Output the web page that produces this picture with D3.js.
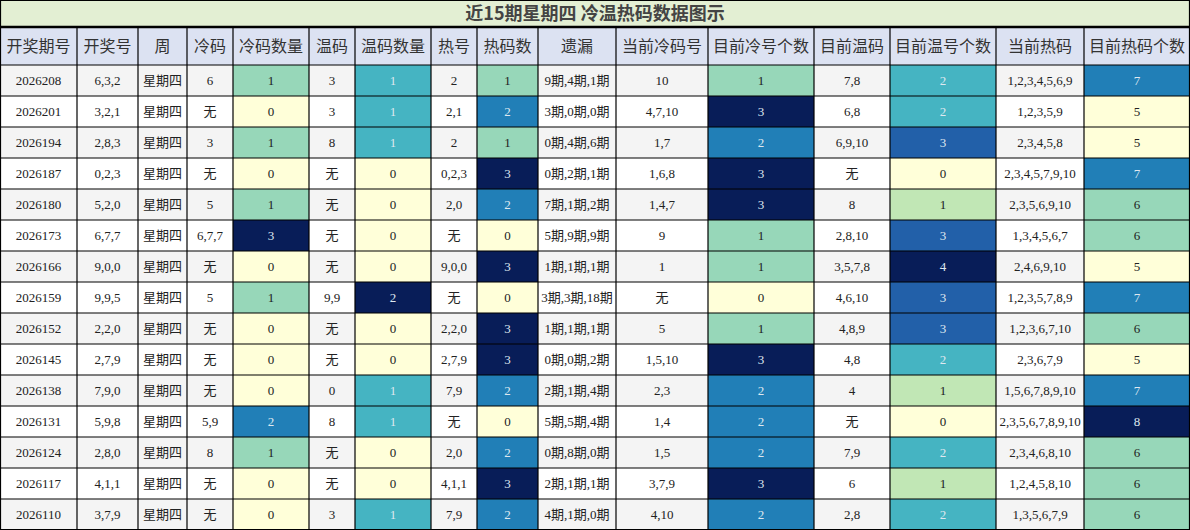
<!DOCTYPE html>
<html>
<head>
<meta charset="utf-8">
<script src="https://cdn.jsdelivr.net/npm/d3@7"></script>
<style>
  body { margin: 0; background: #fff; }
  text { font-family: "Liberation Serif", "Noto Sans CJK SC", serif; }
</style>
</head>
<body>
<svg id="chart" width="1190" height="530"></svg>
<script>
const title = '近15期星期四 冷温热码数据图示';
const headers = ['开奖期号', '开奖号', '周', '冷码', '冷码数量', '温码', '温码数量', '热号', '热码数', '遗漏',
  '当前冷码号', '目前冷号个数', '目前温码', '目前温号个数', '当前热码', '目前热码个数'];
const colEdges = [0, 77, 138, 187, 233, 309, 355, 431, 477, 538, 616, 708, 814, 890, 996, 1084, 1190];

const issues = ['2026208', '2026201', '2026194', '2026187', '2026180', '2026173', '2026166', '2026159',
  '2026152', '2026145', '2026138', '2026131', '2026124', '2026117', '2026110'];
const draws = ['6,3,2', '3,2,1', '2,8,3', '0,2,3', '5,2,0', '6,7,7', '9,0,0', '9,9,5',
  '2,2,0', '2,7,9', '7,9,0', '5,9,8', '2,8,0', '4,1,1', '3,7,9'];
const coldNums = ['6', '无', '3', '无', '5', '6,7,7', '无', '5', '无', '无', '无', '5,9', '8', '无', '无'];
const coldCount = [1, 0, 1, 0, 1, 3, 0, 1, 0, 0, 0, 2, 1, 0, 0];
const warmNums = ['3', '3', '8', '无', '无', '无', '无', '9,9', '无', '无', '0', '8', '无', '无', '3'];
const warmCount = [1, 1, 1, 0, 0, 0, 0, 2, 0, 0, 1, 1, 0, 0, 1];
const hotNums = ['2', '2,1', '2', '0,2,3', '2,0', '无', '9,0,0', '无', '2,2,0', '2,7,9', '7,9', '无', '2,0', '4,1,1', '7,9'];
const hotCount = [1, 2, 1, 3, 2, 0, 3, 0, 3, 3, 2, 0, 2, 3, 2];
const misses = ['9期,4期,1期', '3期,0期,0期', '0期,4期,6期', '0期,2期,1期', '7期,1期,2期', '5期,9期,9期', '1期,1期,1期',
  '3期,3期,18期', '1期,1期,1期', '0期,0期,2期', '2期,1期,4期', '5期,5期,4期', '0期,8期,0期', '2期,1期,1期', '4期,1期,0期'];
const curCold = ['10', '4,7,10', '1,7', '1,6,8', '1,4,7', '9', '1', '无', '5', '1,5,10', '2,3', '1,4', '1,5', '3,7,9', '4,10'];
const curColdCount = [1, 3, 2, 3, 3, 1, 1, 0, 1, 3, 2, 2, 2, 3, 2];
const curWarm = ['7,8', '6,8', '6,9,10', '无', '8', '2,8,10', '3,5,7,8', '4,6,10', '4,8,9', '4,8', '4', '无', '7,9', '6', '2,8'];
const curWarmCount = [2, 2, 3, 0, 1, 3, 4, 3, 3, 2, 1, 0, 2, 1, 2];
const curHot = ['1,2,3,4,5,6,9', '1,2,3,5,9', '2,3,4,5,8', '2,3,4,5,7,9,10', '2,3,5,6,9,10', '1,3,4,5,6,7', '2,4,6,9,10',
  '1,2,3,5,7,8,9', '1,2,3,6,7,10', '2,3,6,7,9', '1,5,6,7,8,9,10', '2,3,5,6,7,8,9,10', '2,3,4,6,8,10', '1,2,4,5,8,10', '1,3,5,6,7,9'];
const curHotCount = [7, 5, 5, 7, 6, 6, 5, 7, 6, 5, 7, 8, 6, 6, 6];

// columns in table order; count columns get a colour scale
const columns = [issues, draws, issues.map(() => '星期四'), coldNums, coldCount, warmNums, warmCount, hotNums, hotCount,
  misses, curCold, curColdCount, curWarm, curWarmCount, curHot, curHotCount];

const svg = d3.select('#chart');
const titleH = 27, headH = 38, rowH = 31;

const y = d3.scaleBand().domain(d3.range(issues.length))
  .range([titleH + headH, titleH + headH + rowH * issues.length]);

// title
svg.append('rect').attr('x', 0).attr('y', 0).attr('width', 1190).attr('height', titleH).attr('fill', '#e3efd3');
svg.append('text').attr('x', 595).attr('y', titleH / 2).attr('dy', '0.35em')
  .attr('text-anchor', 'middle').attr('font-size', 18).attr('font-weight', 'bold').attr('fill', '#444')
  .style('font-family', '"Noto Sans CJK SC", sans-serif').text(title);

// header
const hg = svg.append('g');
headers.forEach((h, i) => {
  const x0 = colEdges[i], w = colEdges[i + 1] - x0;
  hg.append('rect').attr('x', x0).attr('y', titleH).attr('width', w).attr('height', headH).attr('fill', '#dce2f2');
  hg.append('text').attr('x', x0 + w / 2).attr('y', titleH + headH / 2).attr('dy', '0.35em')
    .attr('text-anchor', 'middle').attr('font-size', 16).attr('fill', '#333')
    .style('font-family', '"Noto Sans CJK SC", sans-serif').text(h);
});

// body
const bg = svg.append('g');
columns.forEach((col, ci) => {
  const x0 = colEdges[ci], w = colEdges[ci + 1] - x0;
  const numeric = typeof col[0] === 'number';
  const color = numeric
    ? d3.scaleSequential(d3.interpolateYlGnBu).domain(d3.extent(col))
    : null;
  const t = numeric ? d3.scaleLinear().domain(d3.extent(col)).range([0, 1]) : null;
  col.forEach((v, ri) => {
    const fill = numeric ? color(v) : (ri % 2 === 0 ? '#f4f4f4' : '#ffffff');
    bg.append('rect').attr('x', x0).attr('y', y(ri)).attr('width', w).attr('height', y.bandwidth()).attr('fill', fill);
    bg.append('text').attr('x', x0 + w / 2).attr('y', y(ri) + rowH / 2).attr('dy', '0.35em')
      .attr('text-anchor', 'middle')
      .attr('font-size', String(v).includes('期') || v === '星期四' || v === '无' ? 13 : 13)
      .attr('fill', numeric && t(v) >= 0.5 ? '#dfe8f0' : '#222')
      .text(v);
  });
});

// grid lines
const gl = svg.append('g').attr('stroke', '#000').attr('stroke-width', 1.2);
const bottom = y.range()[1];
gl.append('line').attr('x1', 0).attr('x2', 1190).attr('y1', titleH).attr('y2', titleH).attr('stroke-width', 2.5);
gl.append('line').attr('x1', 0).attr('x2', 1190).attr('y1', 0.5).attr('y2', 0.5);
y.domain().forEach(ri => {
  gl.append('line').attr('x1', 0).attr('x2', 1190).attr('y1', y(ri)).attr('y2', y(ri));
});
gl.append('line').attr('x1', 0).attr('x2', 1190).attr('y1', bottom - 0.5).attr('y2', bottom - 0.5);
colEdges.forEach((x, i) => {
  const xx = i === 0 ? 0.5 : (i === colEdges.length - 1 ? 1189.5 : x);
  gl.append('line').attr('x1', xx).attr('x2', xx).attr('y1', (i === 0 || i === colEdges.length - 1) ? 0 : titleH)
    .attr('y2', bottom);
});
</script>
</body>
</html>
